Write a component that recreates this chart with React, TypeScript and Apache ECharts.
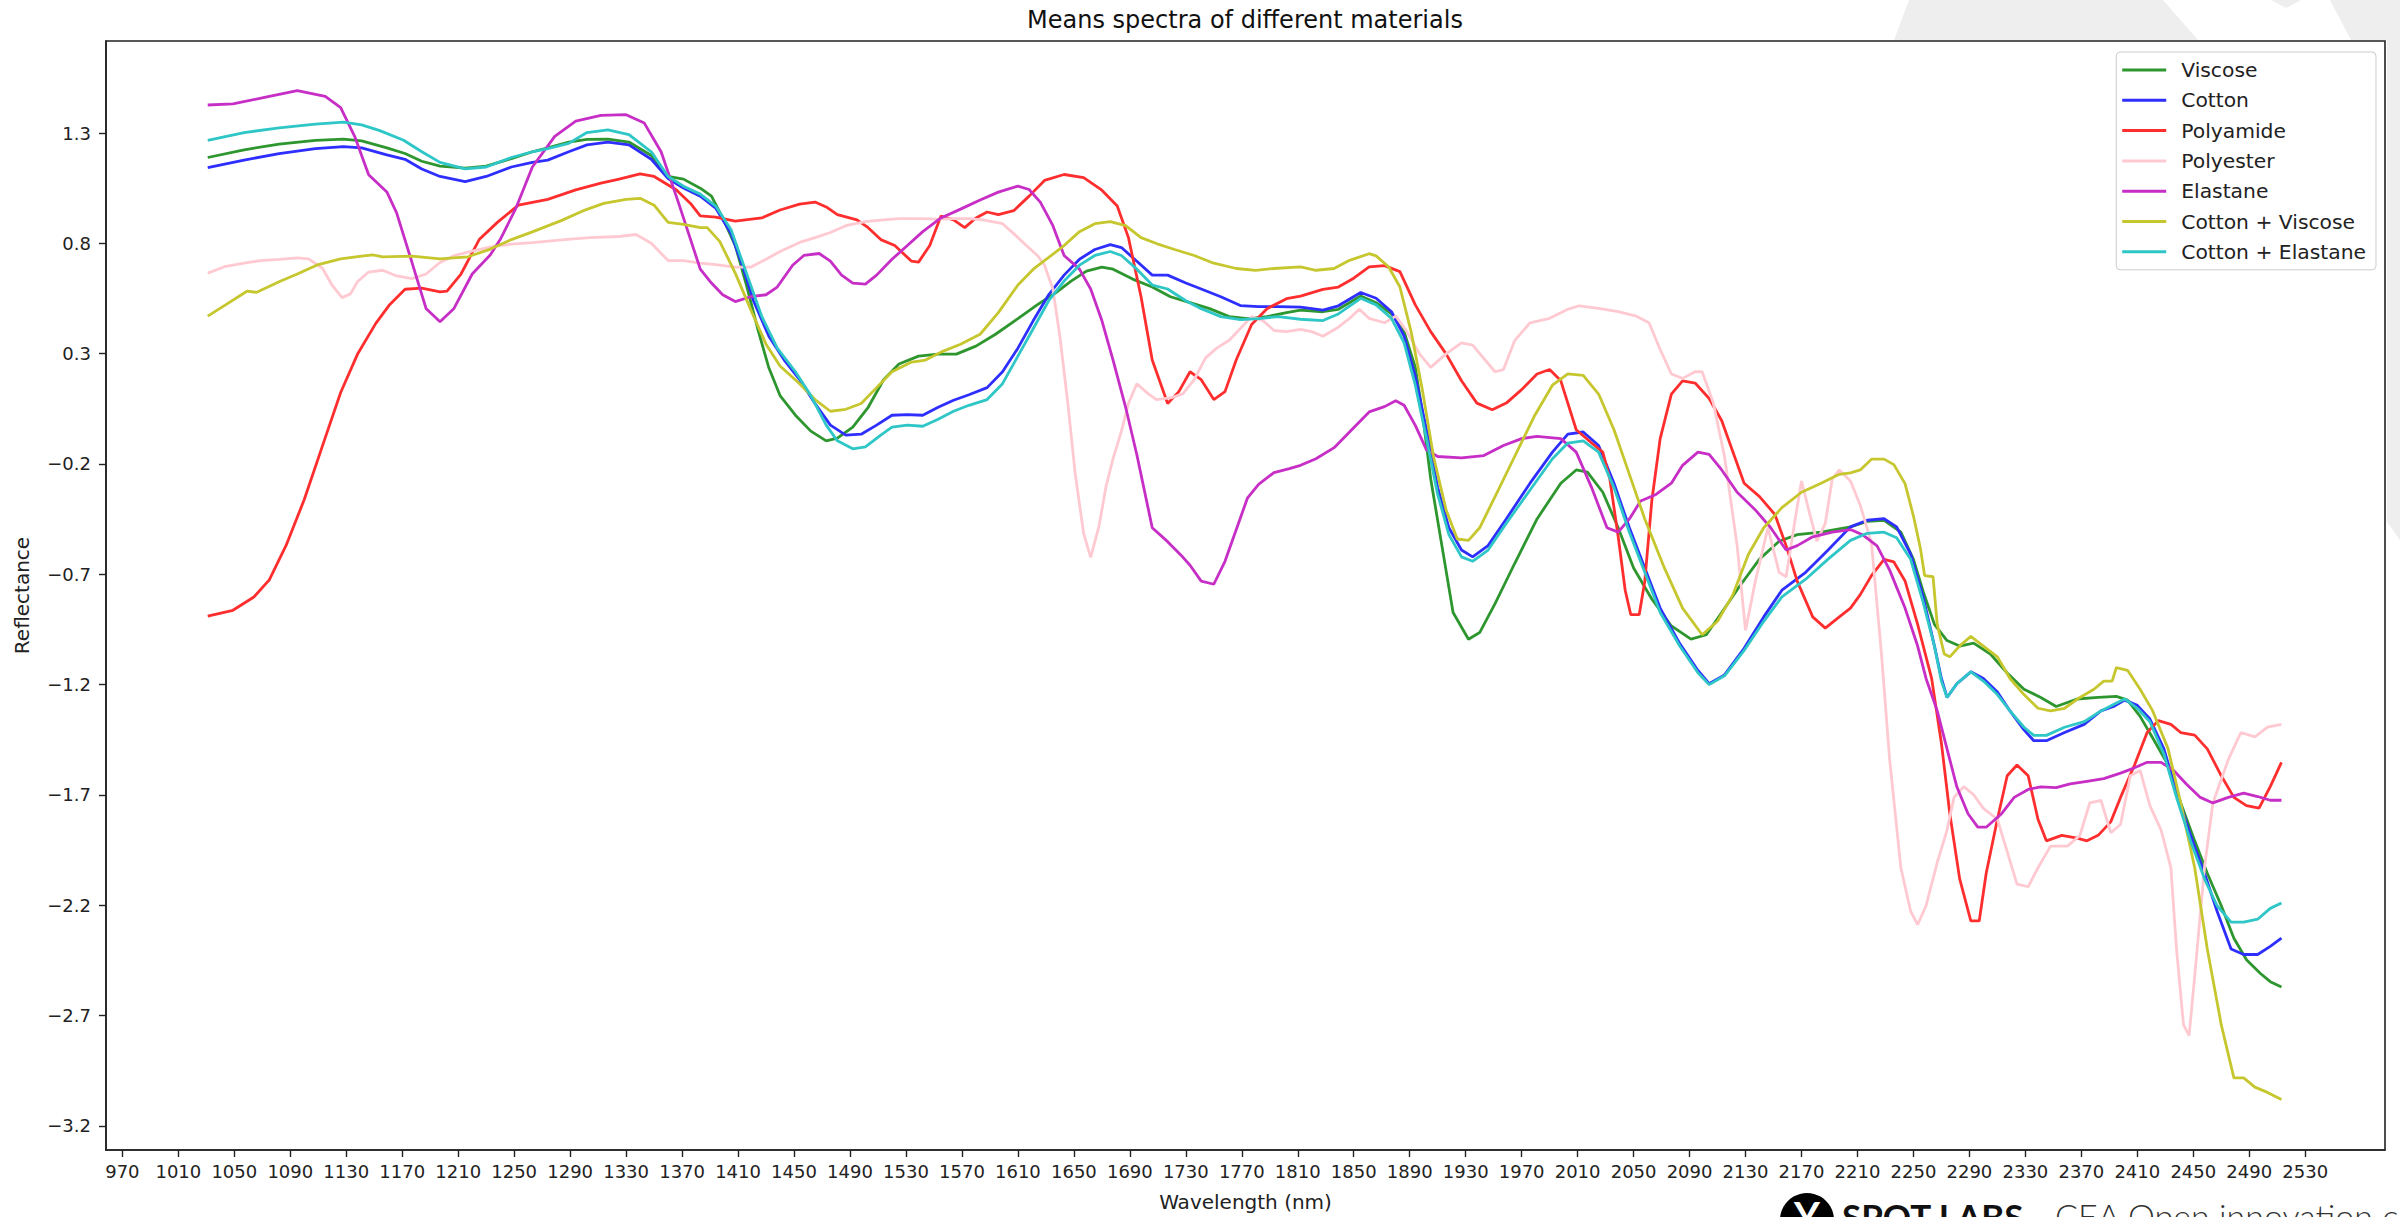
import React, { useEffect, useRef } from 'react';
import * as echarts from 'echarts';

const seriesNames = ['Viscose', 'Cotton', 'Polyamide', 'Polyester', 'Elastane', 'Cotton + Viscose', 'Cotton + Elastane'];
const seriesColors = ['#2e962e', '#2e2eff', '#ff2e2e', '#ffc9d1', '#c62ec6', '#c6c62e', '#2ec6c6'];

const xTicks = [970, 1010, 1050, 1090, 1130, 1170, 1210, 1250, 1290, 1330, 1370, 1410, 1450, 1490, 1530, 1570, 1610, 1650, 1690, 1730, 1770, 1810, 1850, 1890, 1930, 1970, 2010, 2050, 2090, 2130, 2170, 2210, 2250, 2290, 2330, 2370, 2410, 2450, 2490, 2530];
const yTicks = [-3.2, -2.7, -2.2, -1.7, -1.2, -0.7, -0.2, 0.3, 0.8, 1.3];

const viscose = [[1031,1.189],[1057,1.224],[1082,1.250],[1108,1.267],[1128,1.272],[1141,1.264],[1159,1.233],[1172,1.207],[1184,1.172],[1197,1.150],[1215,1.141],[1230,1.150],[1248,1.184],[1263,1.215],[1274,1.233],[1289,1.259],[1302,1.271],[1317,1.272],[1332,1.259],[1348,1.198],[1360,1.103],[1371,1.091],
[1383,1.050],[1391,1.014],[1399,0.915],[1408,0.790],[1416,0.611],[1424,0.414],[1432,0.236],[1440,0.110],[1451,0.021],[1462,-0.051],[1473,-0.095],[1481,-0.083],[1492,-0.033],[1503,0.057],[1514,0.182],[1525,0.253],[1539,0.289],[1553,0.298],[1566,0.298],[1580,0.334],[1594,0.388],[1610,0.459],[1624,0.522],[1637,0.576],[1648,0.629],[1659,0.674],[1670,0.692],[1678,0.683],[1692,0.638],[1706,0.602],[1719,0.558],[1733,0.531],[1747,0.504],[1761,0.468],[1774,0.459],[1788,0.468],[1802,0.486],
[1812,0.497],[1828,0.490],[1839,0.501],[1855,0.561],[1866,0.531],[1877,0.480],[1886,0.400],[1894,0.238],[1899,0.036],[1905,-0.267],[1913,-0.570],[1921,-0.873],[1932,-0.994],[1940,-0.964],[1951,-0.833],[1965,-0.651],[1981,-0.449],[1998,-0.287],[2009,-0.227],[2017,-0.237],[2028,-0.328],[2039,-0.489],[2050,-0.671],[2063,-0.812],[2077,-0.934],[2091,-0.994],[2102,-0.974],[2113,-0.873],[2126,-0.752],[2140,-0.631],[2154,-0.550],[2167,-0.520],[2184,-0.509],
[2205,-0.485],[2217,-0.460],[2229,-0.455],[2241,-0.509],[2250,-0.632],[2257,-0.779],[2265,-0.927],[2274,-1.000],[2283,-1.025],[2293,-1.012],[2305,-1.061],[2317,-1.147],[2329,-1.221],[2341,-1.258],[2352,-1.299],[2367,-1.265],[2382,-1.258],[2395,-1.253],[2403,-1.270],[2412,-1.344],[2421,-1.442],[2432,-1.564],[2441,-1.736],[2451,-1.908],[2460,-2.055],[2470,-2.202],[2479,-2.349],[2488,-2.447],[2498,-2.509],[2505,-2.546],[2513,-2.570]];

const cotton = [[1031,1.143],[1057,1.177],[1082,1.207],[1108,1.229],[1128,1.238],[1141,1.233],[1159,1.201],[1172,1.181],[1184,1.137],[1197,1.103],[1215,1.080],[1230,1.103],[1248,1.146],[1263,1.167],[1274,1.177],[1289,1.215],[1302,1.246],[1317,1.259],[1332,1.246],[1348,1.181],[1360,1.094],[1371,1.051],
[1383,1.014],[1394,0.960],[1405,0.844],[1413,0.701],[1421,0.540],[1432,0.379],[1443,0.271],[1454,0.182],[1465,0.074],[1476,-0.024],[1487,-0.069],[1498,-0.065],[1509,-0.024],[1520,0.021],[1531,0.024],[1542,0.021],[1553,0.057],[1564,0.089],[1575,0.114],[1588,0.146],[1599,0.218],[1610,0.325],[1621,0.450],[1632,0.567],[1643,0.656],[1654,0.728],[1665,0.772],[1676,0.794],[1684,0.781],[1695,0.719],[1706,0.656],[1717,0.656],[1730,0.620],[1741,0.593],[1755,0.558],[1769,0.518],[1782,0.513],[1796,0.513],
[1812,0.511],[1828,0.497],[1839,0.517],[1855,0.577],[1866,0.551],[1877,0.490],[1886,0.379],[1894,0.198],[1902,-0.045],[1910,-0.307],[1918,-0.489],[1927,-0.590],[1935,-0.621],[1946,-0.570],[1959,-0.449],[1976,-0.287],[1992,-0.146],[2003,-0.065],[2014,-0.055],[2025,-0.116],[2036,-0.287],[2047,-0.489],[2058,-0.671],[2069,-0.853],[2083,-1.014],[2096,-1.136],[2104,-1.196],[2115,-1.156],[2129,-1.035],[2143,-0.893],[2156,-0.772],[2173,-0.691],[2189,-0.590],
[2205,-0.485],[2217,-0.455],[2229,-0.448],[2238,-0.485],[2248,-0.608],[2257,-0.804],[2265,-1.025],[2270,-1.172],[2274,-1.258],[2281,-1.196],[2291,-1.142],[2300,-1.172],[2310,-1.233],[2319,-1.319],[2329,-1.405],[2336,-1.454],[2345,-1.454],[2358,-1.417],[2372,-1.380],[2384,-1.319],[2393,-1.299],[2401,-1.270],[2410,-1.294],[2419,-1.356],[2429,-1.491],[2438,-1.687],[2448,-1.883],[2458,-2.055],[2467,-2.227],[2477,-2.398],[2486,-2.423],[2496,-2.423],[2505,-2.386],[2513,-2.349]];

const polyamide = [[1031,-0.889],[1049,-0.863],[1064,-0.803],[1075,-0.725],[1087,-0.569],[1100,-0.361],[1113,-0.118],[1126,0.124],[1138,0.297],[1151,0.436],[1161,0.522],[1172,0.592],[1184,0.597],[1197,0.580],[1202,0.583],[1212,0.661],[1225,0.817],[1238,0.895],[1253,0.973],[1274,0.999],[1294,1.042],[1312,1.073],[1325,1.091],[1340,1.115],[1350,1.103],[1366,1.042],[1376,0.981],
[1383,0.924],[1394,0.919],[1408,0.901],[1427,0.915],[1440,0.951],[1454,0.978],[1465,0.987],[1473,0.965],[1481,0.930],[1495,0.906],[1503,0.871],[1512,0.817],[1522,0.790],[1534,0.719],[1539,0.715],[1547,0.790],[1555,0.924],[1564,0.906],[1572,0.871],[1580,0.915],[1588,0.942],[1596,0.930],[1607,0.948],[1618,1.014],[1629,1.085],[1643,1.112],[1657,1.098],[1670,1.041],[1681,0.969],[1689,0.826],[1698,0.558],[1706,0.271],[1717,0.074],[1725,0.128],[1733,0.218],[1741,0.182],[1750,0.092],[1758,0.128],[1766,0.271],[1777,0.432],[1788,0.504],[1802,0.549],
[1812,0.561],[1828,0.591],[1839,0.602],[1850,0.642],[1861,0.693],[1872,0.699],[1883,0.672],[1894,0.521],[1905,0.400],[1916,0.299],[1927,0.177],[1938,0.076],[1949,0.046],[1959,0.076],[1970,0.137],[1981,0.208],[1990,0.228],[1998,0.177],[2003,0.076],[2009,-0.045],[2020,-0.105],[2028,-0.146],[2033,-0.267],[2039,-0.530],[2044,-0.772],[2048,-0.883],[2054,-0.883],[2058,-0.732],[2063,-0.368],[2069,-0.085],[2077,0.117],[2085,0.177],[2094,0.167],[2104,0.097],[2113,-0.004],[2121,-0.146],[2129,-0.287],[2140,-0.348],[2151,-0.429],[2159,-0.570],[2167,-0.732],[2178,-0.893],[2187,-0.944],[2195,-0.903],
[2205,-0.853],[2212,-0.792],[2220,-0.706],[2229,-0.632],[2236,-0.644],[2244,-0.730],[2253,-0.927],[2263,-1.172],[2270,-1.466],[2276,-1.785],[2283,-2.079],[2291,-2.271],[2297,-2.271],[2302,-2.055],[2310,-1.810],[2317,-1.613],[2324,-1.564],[2332,-1.613],[2339,-1.810],[2345,-1.908],[2356,-1.883],[2367,-1.896],[2374,-1.908],[2382,-1.883],[2391,-1.822],[2398,-1.711],[2408,-1.564],[2417,-1.417],[2425,-1.363],[2434,-1.380],[2441,-1.417],[2451,-1.429],[2460,-1.491],[2470,-1.613],[2479,-1.711],[2488,-1.748],[2497,-1.760],[2505,-1.662],[2513,-1.552]];

const polyester = [[1031,0.665],[1044,0.696],[1059,0.713],[1069,0.722],[1082,0.727],[1095,0.734],[1103,0.730],[1113,0.687],[1120,0.609],[1127,0.554],[1133,0.571],[1138,0.626],[1146,0.670],[1156,0.678],[1166,0.652],[1177,0.640],[1187,0.661],[1197,0.713],[1207,0.744],[1220,0.765],[1235,0.786],[1248,0.796],[1263,0.803],[1286,0.817],[1304,0.826],[1325,0.831],[1337,0.840],[1348,0.800],[1360,0.722],[1371,0.722],
[1383,0.710],[1394,0.704],[1408,0.692],[1419,0.692],[1430,0.728],[1440,0.763],[1454,0.804],[1465,0.826],[1476,0.849],[1487,0.880],[1501,0.898],[1514,0.906],[1525,0.912],[1539,0.912],[1553,0.910],[1564,0.912],[1575,0.912],[1585,0.906],[1599,0.889],[1607,0.844],[1616,0.790],[1624,0.745],[1629,0.701],[1635,0.593],[1640,0.379],[1646,0.057],[1651,-0.247],[1657,-0.516],[1662,-0.623],[1668,-0.480],[1673,-0.301],[1678,-0.176],[1684,-0.051],[1689,0.074],[1695,0.164],[1703,0.119],[1709,0.092],[1720,0.101],[1728,0.119],[1736,0.182],[1744,0.280],[1752,0.325],[1761,0.361],[1769,0.414],[1777,0.468],[1785,0.450],[1793,0.405],[1802,0.400],
[1812,0.410],[1820,0.400],[1828,0.379],[1839,0.420],[1847,0.460],[1854,0.501],[1861,0.460],[1872,0.440],[1880,0.470],[1888,0.400],[1897,0.299],[1905,0.238],[1916,0.299],[1927,0.349],[1935,0.339],[1943,0.278],[1951,0.218],[1957,0.228],[1965,0.359],[1976,0.440],[1990,0.460],[2003,0.501],[2011,0.517],[2025,0.505],[2039,0.491],[2052,0.470],[2061,0.440],[2069,0.319],[2077,0.208],[2085,0.188],[2094,0.218],[2099,0.218],[2107,0.076],[2115,-0.166],[2124,-0.570],[2130,-0.954],[2137,-0.732],[2146,-0.489],[2154,-0.691],[2159,-0.711],[2165,-0.469],[2170,-0.277],[2176,-0.429],[2181,-0.550],[2187,-0.469],[2192,-0.267],[2197,-0.227],
[2205,-0.277],[2212,-0.387],[2220,-0.559],[2227,-1.049],[2233,-1.540],[2241,-2.030],[2248,-2.227],[2253,-2.288],[2259,-2.202],[2267,-2.006],[2274,-1.859],[2279,-1.711],[2286,-1.662],[2293,-1.699],[2300,-1.761],[2310,-1.810],[2317,-1.957],[2324,-2.104],[2332,-2.116],[2339,-2.030],[2348,-1.932],[2360,-1.932],[2369,-1.883],[2376,-1.736],[2384,-1.724],[2391,-1.871],[2398,-1.834],[2405,-1.613],[2412,-1.589],[2419,-1.748],[2427,-1.859],[2434,-2.030],[2438,-2.398],[2443,-2.742],[2447,-2.791],[2451,-2.521],[2458,-2.030],[2464,-1.736],[2475,-1.540],[2484,-1.417],[2494,-1.437],[2503,-1.393],[2513,-1.380]];

const elastane = [[1031,1.427],[1049,1.432],[1069,1.458],[1095,1.492],[1115,1.466],[1126,1.415],[1136,1.285],[1146,1.111],[1159,1.033],[1166,0.938],[1177,0.713],[1187,0.505],[1197,0.445],[1207,0.505],[1220,0.661],[1233,0.748],[1240,0.817],[1251,0.956],[1263,1.146],[1279,1.285],[1294,1.354],[1312,1.380],[1330,1.383],[1343,1.345],[1355,1.215],[1368,0.973],
[1383,0.683],[1391,0.620],[1399,0.567],[1408,0.536],[1419,0.558],[1430,0.567],[1438,0.602],[1449,0.701],[1457,0.745],[1468,0.754],[1476,0.719],[1484,0.656],[1492,0.620],[1501,0.615],[1509,0.656],[1520,0.728],[1531,0.790],[1542,0.853],[1555,0.915],[1569,0.955],[1583,0.996],[1596,1.032],[1610,1.059],[1618,1.044],[1626,0.987],[1635,0.880],[1643,0.745],[1654,0.683],[1662,0.593],[1670,0.450],[1678,0.271],[1687,0.057],[1695,-0.158],[1706,-0.489],[1717,-0.552],[1728,-0.623],[1733,-0.659],[1741,-0.731],[1750,-0.745],[1758,-0.641],[1766,-0.498],[1774,-0.355],[1782,-0.292],[1793,-0.239],[1804,-0.221],
[1812,-0.206],[1823,-0.176],[1836,-0.126],[1847,-0.055],[1861,0.036],[1872,0.060],[1880,0.087],[1886,0.066],[1894,-0.025],[1902,-0.136],[1910,-0.166],[1927,-0.172],[1943,-0.162],[1957,-0.116],[1970,-0.085],[1981,-0.075],[1998,-0.085],[2009,-0.146],[2020,-0.307],[2031,-0.489],[2039,-0.509],[2047,-0.449],[2055,-0.368],[2066,-0.338],[2077,-0.287],[2085,-0.206],[2096,-0.146],[2104,-0.156],[2113,-0.227],[2124,-0.328],[2137,-0.408],[2148,-0.489],[2159,-0.590],[2167,-0.570],[2178,-0.530],[2192,-0.509],
[2205,-0.497],[2214,-0.522],[2224,-0.571],[2233,-0.681],[2244,-0.853],[2253,-1.025],[2259,-1.172],[2267,-1.319],[2274,-1.491],[2281,-1.663],[2289,-1.785],[2296,-1.846],[2302,-1.846],[2313,-1.785],[2322,-1.711],[2332,-1.675],[2341,-1.663],[2352,-1.667],[2362,-1.650],[2374,-1.638],[2386,-1.626],[2398,-1.601],[2408,-1.577],[2417,-1.552],[2427,-1.552],[2436,-1.589],[2445,-1.650],[2455,-1.711],[2464,-1.736],[2475,-1.711],[2486,-1.692],[2496,-1.707],[2505,-1.724],[2513,-1.724]];

const cottonViscose = [[1031,0.470],[1044,0.522],[1059,0.583],[1066,0.578],[1082,0.626],[1095,0.661],[1110,0.704],[1126,0.730],[1141,0.742],[1149,0.748],[1156,0.739],[1177,0.742],[1197,0.730],[1217,0.739],[1233,0.774],[1248,0.817],[1263,0.852],[1284,0.904],[1299,0.947],[1314,0.981],[1330,0.999],[1340,1.004],[1350,0.973],[1360,0.895],[1371,0.886],
[1383,0.871],[1388,0.871],[1397,0.808],[1408,0.665],[1420,0.486],[1430,0.343],[1440,0.244],[1454,0.164],[1465,0.092],[1476,0.039],[1487,0.048],[1498,0.074],[1509,0.146],[1520,0.218],[1534,0.262],[1544,0.271],[1555,0.307],[1569,0.343],[1583,0.388],[1596,0.486],[1610,0.611],[1621,0.683],[1632,0.736],[1643,0.790],[1654,0.853],[1665,0.889],[1676,0.898],[1687,0.880],[1698,0.826],[1709,0.799],[1722,0.772],[1736,0.745],[1750,0.710],[1766,0.686],[1780,0.677],[1793,0.686],
[1812,0.693],[1823,0.678],[1836,0.686],[1847,0.723],[1861,0.753],[1866,0.743],[1875,0.693],[1883,0.602],[1891,0.400],[1899,0.137],[1907,-0.166],[1916,-0.408],[1924,-0.540],[1932,-0.546],[1940,-0.489],[1951,-0.348],[1965,-0.166],[1979,0.016],[1992,0.157],[2003,0.208],[2014,0.202],[2025,0.117],[2036,-0.045],[2047,-0.247],[2058,-0.449],[2072,-0.671],[2085,-0.853],[2099,-0.974],[2110,-0.913],[2121,-0.792],[2132,-0.610],[2143,-0.489],[2156,-0.398],[2170,-0.328],[2184,-0.287],[2197,-0.247],
[2205,-0.240],[2212,-0.227],[2220,-0.178],[2229,-0.178],[2236,-0.203],[2244,-0.289],[2250,-0.436],[2255,-0.583],[2258,-0.706],[2264,-0.711],[2267,-0.927],[2272,-1.061],[2276,-1.074],[2283,-1.025],[2291,-0.981],[2300,-1.025],[2310,-1.074],[2319,-1.172],[2329,-1.245],[2339,-1.307],[2348,-1.319],[2358,-1.307],[2369,-1.258],[2379,-1.221],[2386,-1.184],[2392,-1.184],[2395,-1.123],[2403,-1.135],[2412,-1.221],[2421,-1.319],[2432,-1.491],[2441,-1.736],[2451,-2.030],[2460,-2.398],[2470,-2.742],[2479,-2.982],[2486,-2.982],[2494,-3.024],[2503,-3.048],[2513,-3.080]];

const cottonElastane = [[1031,1.267],[1057,1.302],[1082,1.323],[1108,1.340],[1128,1.349],[1141,1.337],[1154,1.311],[1171,1.267],[1184,1.215],[1197,1.167],[1215,1.137],[1230,1.146],[1248,1.189],[1263,1.215],[1274,1.229],[1289,1.253],[1302,1.302],[1317,1.314],[1332,1.293],[1348,1.215],[1360,1.103],[1371,1.059],
[1383,1.023],[1394,0.969],[1405,0.862],[1416,0.665],[1427,0.468],[1438,0.325],[1451,0.218],[1462,0.110],[1473,-0.024],[1481,-0.095],[1492,-0.131],[1501,-0.122],[1512,-0.069],[1520,-0.033],[1531,-0.024],[1542,-0.029],[1553,0.003],[1564,0.039],[1575,0.066],[1588,0.092],[1599,0.164],[1610,0.289],[1621,0.414],[1632,0.540],[1643,0.629],[1654,0.701],[1665,0.745],[1676,0.763],[1684,0.745],[1695,0.683],[1706,0.611],[1717,0.593],[1730,0.540],[1741,0.504],[1755,0.468],[1769,0.454],[1782,0.459],[1796,0.468],
[1812,0.456],[1828,0.450],[1839,0.480],[1855,0.551],[1866,0.521],[1877,0.460],[1886,0.349],[1894,0.157],[1902,-0.085],[1910,-0.338],[1918,-0.520],[1927,-0.621],[1935,-0.641],[1946,-0.590],[1959,-0.469],[1976,-0.318],[1992,-0.176],[2003,-0.105],[2014,-0.095],[2025,-0.146],[2036,-0.307],[2047,-0.509],[2058,-0.691],[2069,-0.873],[2083,-1.025],[2096,-1.146],[2104,-1.200],[2115,-1.160],[2129,-1.045],[2143,-0.913],[2156,-0.802],[2173,-0.722],[2189,-0.631],
[2205,-0.546],[2217,-0.514],[2229,-0.509],[2238,-0.534],[2248,-0.632],[2257,-0.828],[2265,-1.025],[2270,-1.184],[2274,-1.258],[2281,-1.196],[2291,-1.142],[2300,-1.184],[2310,-1.245],[2319,-1.319],[2329,-1.393],[2336,-1.430],[2345,-1.430],[2358,-1.393],[2372,-1.368],[2384,-1.319],[2393,-1.290],[2401,-1.265],[2410,-1.307],[2419,-1.368],[2429,-1.515],[2438,-1.711],[2448,-1.908],[2458,-2.080],[2467,-2.202],[2477,-2.276],[2486,-2.276],[2496,-2.263],[2505,-2.214],[2513,-2.190]];

const seriesData = [viscose, cotton, polyamide, polyester, elastane, cottonViscose, cottonElastane];

const FONT = "'DejaVu Sans', 'Liberation Sans', sans-serif";
const WATERMARK = '#eeeeee';

function fmtY(v: number) {
  const s = Math.abs(v).toFixed(1);
  return v < 0 ? '\u2212' + s : s;
}

function buildOption() {
  return {
    animation: false,
    backgroundColor: '#ffffff',
    grid: {
      left: 106, top: 41, right: 15, bottom: 65,
      show: true, backgroundColor: '#ffffff', borderColor: '#222222', borderWidth: 1.6,
      containLabel: false,
    },
    legend: {
      orient: 'vertical', right: 24, top: 52,
      data: seriesNames,
      icon: 'rect', itemWidth: 44, itemHeight: 3, itemGap: 10.3,
      padding: [8, 10, 8, 6],
      backgroundColor: 'rgba(255,255,255,0.8)', borderColor: '#cccccc', borderWidth: 1, borderRadius: 4,
      textStyle: { fontSize: 20.3, color: '#222222', fontFamily: FONT, padding: [0, 0, 0, 10] },
    },
    xAxis: {
      type: 'value', min: 958.3, max: 2587,
      axisLine: { show: true, onZero: false, lineStyle: { color: '#222222', width: 1.6 } },
      axisTick: { show: true, length: 7, customValues: xTicks, lineStyle: { color: '#222222', width: 1.4 } },
      axisLabel: { customValues: xTicks, margin: 12, fontSize: 18, color: '#222222', fontFamily: FONT, hideOverlap: false, formatter: (v: number) => String(v) },
      splitLine: { show: false },
      name: 'Wavelength (nm)', nameLocation: 'middle', nameGap: 42,
      nameTextStyle: { fontSize: 20, color: '#222222', fontFamily: FONT },
    },
    yAxis: {
      type: 'value', min: -3.309, max: 1.717,
      axisLine: { show: true, lineStyle: { color: '#222222', width: 1.6 } },
      axisTick: { show: true, length: 7, customValues: yTicks, lineStyle: { color: '#222222', width: 1.4 } },
      axisLabel: { customValues: yTicks, margin: 15, fontSize: 18, color: '#222222', fontFamily: FONT, formatter: (v: number) => fmtY(v) },
      splitLine: { show: false },
      name: 'Reflectance', nameLocation: 'middle', nameGap: 74, nameRotate: 90,
      nameTextStyle: { fontSize: 20, color: '#222222', fontFamily: FONT },
    },
    series: seriesNames.map((name, i) => ({
      name, type: 'line', data: seriesData[i], showSymbol: false, symbol: 'none', smooth: false,
      lineStyle: { color: seriesColors[i], width: 2.8 },
      itemStyle: { color: seriesColors[i] },
      emphasis: { disabled: true },
    })),
    graphic: [
      { type: 'polygon', z: -10, silent: true, shape: { points: [[1909, 0], [2163, 0], [2198, 40], [1894, 40]] }, style: { fill: WATERMARK } },
      { type: 'polygon', z: -10, silent: true, shape: { points: [[2271, 0], [2301, 0], [2286, 8]] }, style: { fill: WATERMARK } },
      { type: 'polygon', z: -10, silent: true, shape: { points: [[2330, 0], [2400, 0], [2400, 40], [2351, 40]] }, style: { fill: WATERMARK } },
      { type: 'polygon', z: -10, silent: true, shape: { points: [[2387, 40], [2400, 40], [2400, 540], [2387, 522]] }, style: { fill: WATERMARK } },
      { type: 'text', x: 1245, y: 20, silent: true, style: { text: 'Means spectra of different materials', font: `24px ${FONT}`, fill: '#111111', align: 'center', verticalAlign: 'middle', textAlign: 'center', textVerticalAlign: 'middle' } },
      { type: 'circle', silent: true, shape: { cx: 1807, cy: 1220, r: 27 }, style: { fill: '#000000' } },
      { type: 'text', x: 1807, y: 1196, silent: true, style: { text: 'Y', font: "bold 40px Lato", fill: '#ffffff', align: 'center', verticalAlign: 'top', textAlign: 'center', textVerticalAlign: 'top' } },
      { type: 'text', x: 1842, y: 1198, silent: true, style: { text: 'SPOT LABS', font: "bold 35px Lato", fill: '#111111', verticalAlign: 'top', textVerticalAlign: 'top' } },
      { type: 'text', x: 2055, y: 1198, silent: true, style: { text: 'CEA Open innovation center', font: "300 34px Lato", fill: '#333333', verticalAlign: 'top', textVerticalAlign: 'top' } },
    ],
  };
}

export default function App() {
  const ref = useRef<HTMLDivElement>(null);
  useEffect(() => {
    if (!ref.current) return;
    const chart = echarts.init(ref.current, null, { renderer: 'svg' });
    chart.setOption(buildOption() as any);
    return () => chart.dispose();
  }, []);
  return (
    <div
      ref={ref}
      style={{ position: 'absolute', left: 0, top: 0, width: 2400, height: 1217, background: '#ffffff' }}
    />
  );
}
